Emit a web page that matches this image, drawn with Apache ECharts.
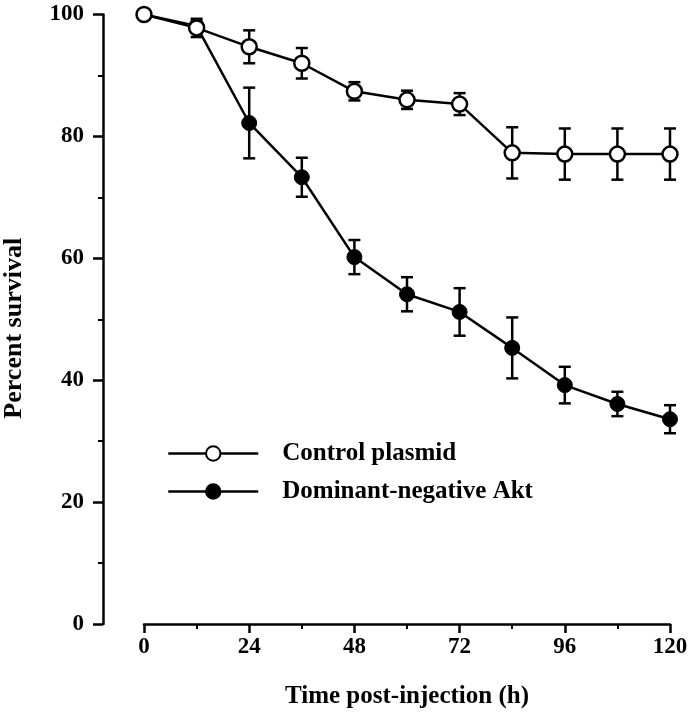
<!DOCTYPE html>
<html>
<head>
<meta charset="utf-8">
<script src="https://cdn.jsdelivr.net/npm/echarts@6/dist/echarts.min.js"></script>
<style>html,body{margin:0;padding:0;background:#fff;}#c{width:693px;height:719px;}</style>
</head>
<body>
<div id="c"></div>
<script>
var hours = [0, 12, 24, 36, 48, 60, 72, 84, 96, 108, 120];
var controlPlasmid = [100, 97.8, 94.7, 92.0, 87.4, 86.0, 85.3, 77.3, 77.1, 77.1, 77.1];
var controlErr = [0, 1.5, 2.7, 2.5, 1.5, 1.5, 1.8, 4.2, 4.2, 4.2, 4.2];
var dnAkt = [100, 98.1, 82.2, 73.3, 60.2, 54.1, 51.2, 45.3, 39.2, 36.1, 33.6];
var dnAktErr = [0, 0.8, 5.8, 3.2, 2.8, 2.8, 3.9, 5.0, 3.0, 2.0, 2.3];
var xTicks = [0, 24, 48, 72, 96, 120];
var yTicks = [0, 20, 40, 60, 80, 100];

var FONT = '"Liberation Serif", "Times New Roman", serif';

function pairs(vals) { return hours.map(function (h, i) { return [h, vals[i]]; }); }
function errData(vals, errs) {
  return hours.map(function (h, i) { return [h, vals[i] - errs[i], vals[i] + errs[i]]; })
    .filter(function (d) { return d[2] - d[1] > 0.01; });
}
function errRender(params, api) {
  var x = api.value(0);
  var lo = api.coord([x, api.value(1)]);
  var hi = api.coord([x, api.value(2)]);
  var hw = 6;
  var st = { stroke: '#000', lineWidth: 2.5 };
  return {
    type: 'group',
    children: [
      { type: 'line', shape: { x1: lo[0], y1: lo[1], x2: hi[0], y2: hi[1] }, style: st },
      { type: 'line', shape: { x1: lo[0] - hw, y1: lo[1], x2: lo[0] + hw, y2: lo[1] }, style: st },
      { type: 'line', shape: { x1: hi[0] - hw, y1: hi[1], x2: hi[0] + hw, y2: hi[1] }, style: st }
    ]
  };
}

var chart = echarts.init(document.getElementById('c'), null, { renderer: 'canvas' });
chart.setOption({
  backgroundColor: '#fff',
  animation: false,
  grid: { left: 144, right: 23, top: 14.5, bottom: 95, containLabel: false, outerBoundsMode: 'none' },
  xAxis: {
    type: 'value', min: 0, max: 120, interval: 24,
    name: 'Time post-injection (h)', nameLocation: 'middle', nameGap: 60,
    nameTextStyle: { fontFamily: FONT, fontWeight: 'bold', fontSize: 25, color: '#000' },
    axisLine: { show: true, onZero: false, lineStyle: { color: '#000', width: 2.5 } },
    axisTick: { show: true, length: 9, lineStyle: { color: '#000', width: 2.5 } },
    minorTick: { show: true, splitNumber: 2, length: 5, lineStyle: { color: '#000', width: 2 } },
    splitLine: { show: false },
    axisLabel: {
      margin: 12, fontFamily: FONT, fontWeight: 'bold', fontSize: 23, color: '#000',
      formatter: function (v) { return xTicks.indexOf(v) >= 0 ? String(v) : ''; }
    }
  },
  yAxis: {
    type: 'value', min: 0, max: 100, interval: 20, offset: 41,
    name: 'Percent survival', nameLocation: 'middle', nameGap: 76,
    nameTextStyle: { fontFamily: FONT, fontWeight: 'bold', fontSize: 26, color: '#000', padding: [0, 18, 0, 0] },
    axisLine: { show: true, onZero: false, lineStyle: { color: '#000', width: 2.5 } },
    axisTick: { show: true, length: 10, lineStyle: { color: '#000', width: 2.5 } },
    minorTick: { show: true, splitNumber: 2, length: 5, lineStyle: { color: '#000', width: 2 } },
    splitLine: { show: false },
    axisLabel: {
      margin: 19, fontFamily: FONT, fontWeight: 'bold', fontSize: 23, color: '#000',
      formatter: function (v) { return yTicks.indexOf(v) >= 0 ? String(v) : ''; }
    }
  },
  legend: {
    orient: 'vertical', left: 167, top: 441, padding: 0, itemWidth: 90, itemHeight: 18, itemGap: 13,
    lineStyle: { width: 2.5, color: '#000' },
    textStyle: { fontFamily: FONT, fontWeight: 'bold', fontSize: 25, color: '#000', padding: [0, 0, 0, 19] },
    data: ['Control plasmid', 'Dominant-negative Akt']
  },
  series: [
    { type: 'custom', name: 'errDN', renderItem: errRender, data: errData(dnAkt, dnAktErr), z: 1, silent: true },
    { type: 'custom', name: 'errCtl', renderItem: errRender, data: errData(controlPlasmid, controlErr), z: 1, silent: true },
    {
      type: 'line', name: 'Dominant-negative Akt', data: pairs(dnAkt), z: 3,
      symbol: 'circle', symbolSize: 15, showAllSymbol: true,
      lineStyle: { color: '#000', width: 2.5 },
      itemStyle: { color: '#000', borderColor: '#000', borderWidth: 1 }
    },
    {
      type: 'line', name: 'Control plasmid', data: pairs(controlPlasmid), z: 4,
      symbol: 'circle', symbolSize: 15, showAllSymbol: true,
      lineStyle: { color: '#000', width: 2.5 },
      itemStyle: { color: '#fff', borderColor: '#000', borderWidth: 2.5 }
    }
  ]
});
</script>
</body>
</html>
